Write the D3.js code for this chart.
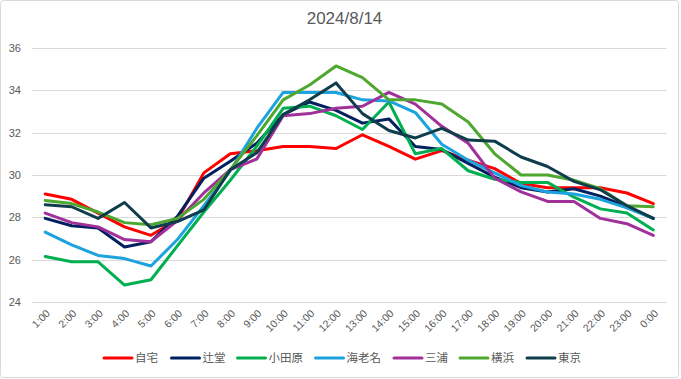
<!DOCTYPE html>
<html><head><meta charset="utf-8">
<script src="https://cdn.jsdelivr.net/npm/d3@7"></script>
<style>
html,body{margin:0;padding:0;background:#fff;}
svg{display:block;font-family:"Liberation Sans",Arial,sans-serif;}
</style></head>
<body><svg id="c" width="681" height="379"></svg>
<script>
const title = "2024/8/14";
const hours = ["1:00","2:00","3:00","4:00","5:00","6:00","7:00","8:00","9:00","10:00","11:00","12:00","13:00","14:00","15:00","16:00","17:00","18:00","19:00","20:00","21:00","22:00","23:00","0:00"];
const yTicks = [24,26,28,30,32,34,36];
const seriesNames = ["自宅","辻堂","小田原","海老名","三浦","横浜","東京"];
const seriesColors = ["#FF0000","#002060","#00B050","#1CA3DE","#A0309A","#4EA72E","#0F3D4C"];
const jitaku   = [29.1,28.85,28.2,27.55,27.15,27.9,30.1,31.0,31.15,31.35,31.35,31.25,31.9,31.35,30.75,31.15,30.7,30.3,29.6,29.4,29.4,29.4,29.15,28.65];
const tsujido  = [27.95,27.6,27.5,26.6,26.85,28.05,29.85,30.65,31.5,32.85,33.45,33.05,32.45,32.65,31.35,31.2,30.55,29.9,29.4,29.2,29.35,29.0,28.5,27.95];
const odawara  = [26.15,25.9,25.9,24.8,25.05,26.65,28.25,29.75,31.35,33.15,33.25,32.8,32.15,33.45,31.0,31.25,30.2,29.8,29.65,29.65,28.95,28.4,28.2,27.4];
const ebina    = [27.3,26.7,26.2,26.05,25.7,26.95,28.55,30.2,32.2,33.9,33.9,33.9,33.55,33.5,32.95,31.45,30.7,30.1,29.5,29.2,29.1,28.85,28.45,27.95];
const miura    = [28.2,27.75,27.55,26.95,26.85,27.85,29.15,30.25,30.75,32.8,32.9,33.15,33.25,33.9,33.35,32.3,31.5,29.85,29.2,28.75,28.75,27.95,27.7,27.15];
const yokohama = [28.8,28.65,28.25,27.75,27.65,27.95,28.85,30.25,31.85,33.55,34.25,35.15,34.6,33.55,33.55,33.35,32.5,31.0,30.0,30.0,29.75,29.35,28.55,28.5];
const tokyo    = [28.6,28.5,27.95,28.7,27.5,27.8,28.35,30.25,31.05,32.85,33.55,34.35,32.9,32.1,31.75,32.2,31.65,31.6,30.85,30.4,29.7,29.3,28.55,27.95];
const seriesValues = [jitaku,tsujido,odawara,ebina,miura,yokohama,tokyo];

const svg = d3.select("#c");
const gray = "#595959";
svg.append("rect").attr("x",0.5).attr("y",0.5).attr("width",678).attr("height",377)
  .attr("rx",3).attr("fill","#fff").attr("stroke","#d9d9d9");

const x = d3.scalePoint().domain(hours).range([32,666.5]).padding(0.5);
const y = d3.scaleLinear().domain([24,36]).range([302,48]);

// gridlines
svg.append("g").selectAll("line").data(yTicks).join("line")
  .attr("x1",32).attr("x2",666.5)
  .attr("y1",d=>Math.round(y(d))+0.5).attr("y2",d=>Math.round(y(d))+0.5)
  .attr("stroke","#d9d9d9").attr("stroke-width",1);

// y axis labels
const yAxis = svg.append("g").attr("transform","translate(32,0)")
  .call(d3.axisLeft(y).tickValues(yTicks).tickSize(0).tickPadding(11));
yAxis.select(".domain").remove();
yAxis.selectAll("text").attr("fill",gray).attr("font-size",11)
  .attr("font-family","Liberation Sans, Arial, sans-serif");

// x axis labels
const xAxis = svg.append("g").attr("transform","translate(0,302)")
  .call(d3.axisBottom(x).tickSize(0).tickPadding(0));
xAxis.select(".domain").remove();
xAxis.selectAll("text").attr("fill",gray).attr("font-size",10.5)
  .attr("font-family","Liberation Sans, Arial, sans-serif")
  .attr("text-anchor","end").attr("dy",null).attr("y",0)
  .attr("transform","translate(5,12) rotate(-45)");

// lines
const line = d3.line().x((d,i)=>x(hours[i])).y(d=>y(d));
svg.append("g").selectAll("path").data(seriesValues).join("path")
  .attr("d",line).attr("fill","none")
  .attr("stroke",(d,i)=>seriesColors[i]).attr("stroke-width",3)
  .attr("stroke-linejoin","round").attr("stroke-linecap","round");

// title
svg.append("text").attr("x",344.5).attr("y",24).attr("text-anchor","middle")
  .attr("fill",gray).attr("font-size",17).text(title);

// legend
const legendX = [104,171.5,237.5,315.5,394,460,527];
const lg = svg.append("g");
seriesNames.forEach((n,i)=>{
  const g = lg.append("g").attr("transform",`translate(${legendX[i]},358)`);
  g.append("line").attr("x1",0).attr("x2",28).attr("y1",0).attr("y2",0)
    .attr("stroke",seriesColors[i]).attr("stroke-width",3).attr("stroke-linecap","round");
  g.append("text").attr("x",31).attr("y",4.3).attr("fill",gray)
    .attr("font-size",11.5).attr("font-family","Noto Sans CJK JP, sans-serif").text(n);
});
</script></body></html>
